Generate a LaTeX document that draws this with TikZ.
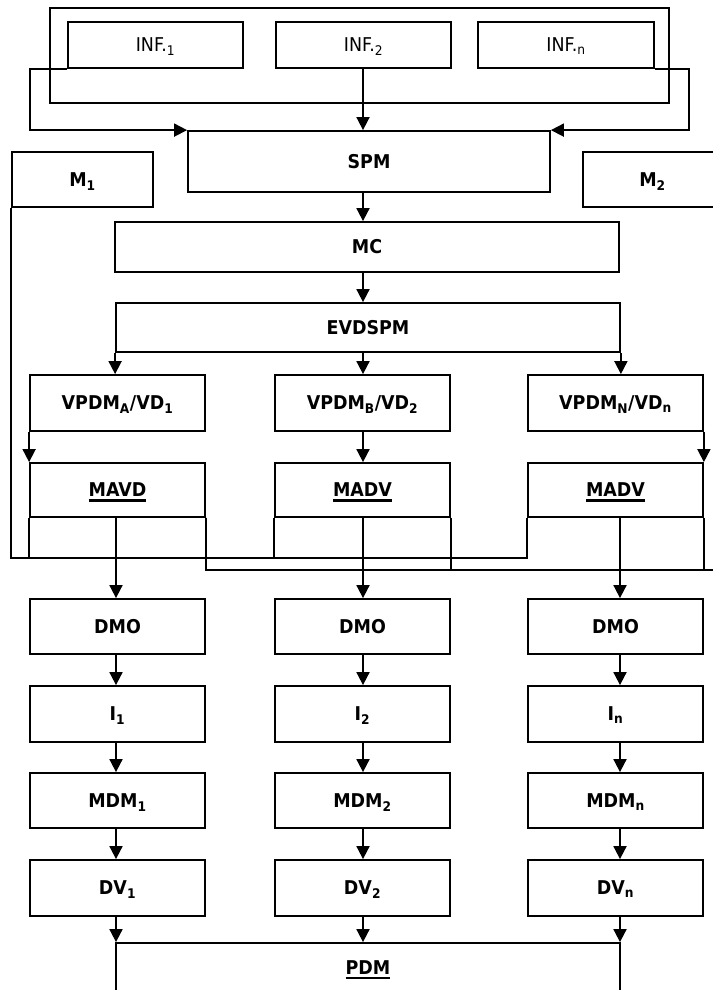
\documentclass[tikz,border=0pt]{standalone}
\usepackage{fontspec}
\setmainfont{DejaVu Sans}[FakeStretch=0.92]
\usetikzlibrary{arrows.meta}
\newcommand{\myul}[1]{\setbox0\hbox{#1}\leavevmode\rlap{\vrule height -2.3pt depth 4.9pt width \wd0}\box0}
\tikzset{
  blk/.style={draw, inner sep=0pt, font=\fontsize{19}{22}\selectfont\bfseries, text height=13.8pt, text depth=0pt},
  infbox/.style={blk, font=\fontsize{19}{22}\selectfont, minimum width=175pt, minimum height=46pt},
  colbox/.style={blk, minimum width=175pt},
  arr/.style={-{Triangle[length=13pt,width=13pt]}}
}
\begin{document}
\begin{tikzpicture}[x=1pt,y=-1pt,line width=1.8pt]
\useasboundingbox (0,0) rectangle (712,990);
% reference columns
\coordinate (X1) at (116,0);
\coordinate (X2) at (363,0);
\coordinate (X3) at (620,0);
\coordinate (FL) at (30,0);
\coordinate (FR) at (689,0);
\coordinate (B558) at (0,558);
\coordinate (B570) at (0,570);
\coordinate (REnd) at (722,570);

% top group
\node[blk, minimum width=619pt, minimum height=95pt] (outer) at (359.5,55.5) {};
\node[infbox] (inf1) at (155.5,45) {INF.\textsubscript{1}};
\node[infbox] (inf2) at (363.5,45) {INF.\textsubscript{2}};
\node[infbox, minimum width=176pt] (infn) at (566,45) {INF.\textsubscript{n}};

\node[blk, minimum width=362pt, minimum height=61pt] (spm) at (369,161.5) {SPM};
\node[blk, minimum width=141pt, minimum height=55pt] (m1) at (82.5,179.5) {M\textsubscript{1}};
\node[blk, minimum width=139pt, minimum height=55pt] (m2) at (652.5,179.5) {M\textsubscript{2}};
\node[blk, minimum width=504pt, minimum height=50pt] (mc) at (367,247) {MC};
\node[blk, minimum width=504pt, minimum height=49pt] (evd) at (368,327.5) {EVDSPM};

% columns
\node[colbox, minimum height=56pt] (vp1) at (117.5,403) {VPDM\textsubscript{A}/VD\textsubscript{1}};
\node[colbox, minimum height=56pt] (vp2) at (362.5,403) {VPDM\textsubscript{B}/VD\textsubscript{2}};
\node[colbox, minimum height=56pt] (vp3) at (615.5,403) {VPDM\textsubscript{N}/VD\textsubscript{n}};

\node[colbox, minimum height=54pt] (ma1) at (117.5,490) {\myul{MAVD}};
\node[colbox, minimum height=54pt] (ma2) at (362.5,490) {\myul{MADV}};
\node[colbox, minimum height=54pt] (ma3) at (615.5,490) {\myul{MADV}};

\node[colbox, minimum height=55pt] (dmo1) at (117.5,626.5) {DMO};
\node[colbox, minimum height=55pt] (dmo2) at (362.5,626.5) {DMO};
\node[colbox, minimum height=55pt] (dmo3) at (615.5,626.5) {DMO};

\node[colbox, minimum height=56pt] (i1) at (117.5,714) {I\textsubscript{1}};
\node[colbox, minimum height=56pt] (i2) at (362.5,714) {I\textsubscript{2}};
\node[colbox, minimum height=56pt] (i3) at (615.5,714) {I\textsubscript{n}};

\node[colbox, minimum height=55pt] (mdm1) at (117.5,800.5) {MDM\textsubscript{1}};
\node[colbox, minimum height=55pt] (mdm2) at (362.5,800.5) {MDM\textsubscript{2}};
\node[colbox, minimum height=55pt] (mdm3) at (615.5,800.5) {MDM\textsubscript{n}};

\node[colbox, minimum height=56pt] (dv1) at (117.5,888) {DV\textsubscript{1}};
\node[colbox, minimum height=56pt] (dv2) at (362.5,888) {DV\textsubscript{2}};
\node[colbox, minimum height=56pt] (dv3) at (615.5,888) {DV\textsubscript{n}};

\node[blk, minimum width=504pt, minimum height=49pt] (pdm) at (368,967.5) {\myul{PDM}};

% connectors: top
\draw[arr] (inf1.south west) -- (inf1.south west -| FL) -- (spm.north west -| FL) -- (spm.north west);
\draw[arr] (infn.south east) -- (infn.south east -| FR) -- (spm.north east -| FR) -- (spm.north east);
\draw[arr] (inf2.south -| X2) -- (spm.north -| X2);
\draw[arr] (spm.south -| X2) -- (mc.north -| X2);
\draw[arr] (mc.south -| X2) -- (evd.north -| X2);
\draw[arr] (evd.south west) -- (evd.south west |- vp1.north);
\draw[arr] (evd.south -| X2) -- (vp2.north -| X2);
\draw[arr] (evd.south east) -- (evd.south east |- vp3.north);

% VPDM -> MAVD/MADV
\draw[arr] (vp1.south west) -- (ma1.north west);
\draw[arr] (vp2.south -| X2) -- (ma2.north -| X2);
\draw[arr] (vp3.south east) -- (ma3.north east);

% M1 feedback line and box edge extensions
\draw (m1.south west) -- (m1.south west |- B558) -- (ma3.south west |- B558) -- (ma3.south west);
\draw (ma1.south west) -- (ma1.south west |- B558);
\draw (ma2.south west) -- (ma2.south west |- B558);
\draw (ma1.south east) -- (ma1.south east |- B570) -- (REnd) -- (m2.south east);
\draw (ma2.south east) -- (ma2.south east |- B570);
\draw (ma3.south east) -- (ma3.south east |- B570);

% column chains
\foreach \c/\X in {1/X1,2/X2,3/X3}{
  \draw[arr] (ma\c.south -| \X) -- (dmo\c.north -| \X);
  \draw[arr] (dmo\c.south -| \X) -- (i\c.north -| \X);
  \draw[arr] (i\c.south -| \X) -- (mdm\c.north -| \X);
  \draw[arr] (mdm\c.south -| \X) -- (dv\c.north -| \X);
  \draw[arr] (dv\c.south -| \X) -- (pdm.north -| \X);
}
\end{tikzpicture}
\end{document}
